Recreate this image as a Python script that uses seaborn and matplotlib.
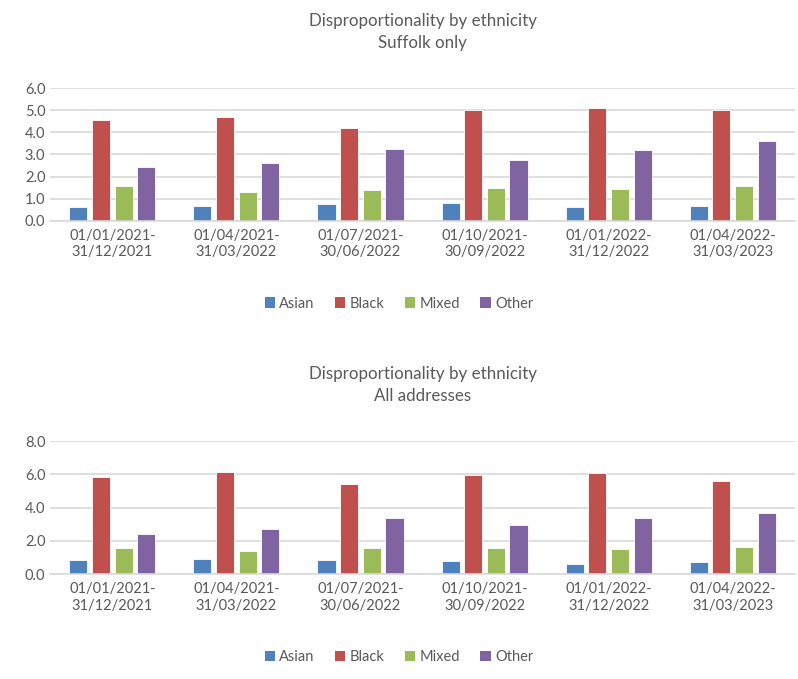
import matplotlib
matplotlib.use('Agg')
import matplotlib.pyplot as plt
import seaborn as sns
import pandas as pd
from matplotlib.patches import Patch
from matplotlib.ticker import FormatStrFormatter, MultipleLocator

# periodos (rotulos do eixo x)
periodos = ['01/01/2021-\n31/12/2021', '01/04/2021-\n31/03/2022', '01/07/2021-\n30/06/2022',
            '01/10/2021-\n30/09/2022', '01/01/2022-\n31/12/2022', '01/04/2022-\n31/03/2023']
etnias = ['Asian', 'Black', 'Mixed', 'Other']
cores = ['#4F81BD', '#C0504D', '#9BBB59', '#8064A2']

# Suffolk only
suffolk_asian = [0.60, 0.66, 0.77, 0.81, 0.62, 0.66]
suffolk_black = [4.58, 4.69, 4.22, 5.02, 5.11, 5.02]
suffolk_mixed = [1.57, 1.28, 1.40, 1.46, 1.43, 1.55]
suffolk_other = [2.41, 2.62, 3.26, 2.73, 3.21, 3.59]

# All addresses
todos_asian = [0.82, 0.88, 0.84, 0.78, 0.58, 0.70]
todos_black = [5.86, 6.14, 5.44, 5.98, 6.06, 5.58]
todos_mixed = [1.54, 1.36, 1.54, 1.54, 1.50, 1.60]
todos_other = [2.40, 2.70, 3.36, 2.96, 3.38, 3.68]


def montar_df(asian, black, mixed, other):
    linhas = []
    for serie, valores in zip(etnias, [asian, black, mixed, other]):
        for p, v in zip(periodos, valores):
            linhas.append({'periodo': p, 'etnia': serie, 'valor': v})
    return pd.DataFrame(linhas)


sns.set_style('white')
plt.rcParams['font.family'] = ['Lato', 'DejaVu Sans']
cinza_texto = '#595959'
cinza_grade = '#D9D9D9'

fig = plt.figure(figsize=(7.98, 6.79), dpi=100)
ax1 = fig.add_axes([0.063, 0.675, 0.933, 0.195])
ax2 = fig.add_axes([0.063, 0.1545, 0.933, 0.196])

configs = [
    (ax1, montar_df(suffolk_asian, suffolk_black, suffolk_mixed, suffolk_other),
     'Disproportionality by ethnicity\nSuffolk only', 6.0, 1.0, 0.553),
    (ax2, montar_df(todos_asian, todos_black, todos_mixed, todos_other),
     'Disproportionality by ethnicity\nAll addresses', 8.0, 2.0, 0.032),
]

for ax, df, titulo, ymax, passo, y_leg in configs:
    sns.barplot(data=df, x='periodo', y='valor', hue='etnia', hue_order=etnias,
                palette=cores, saturation=1, width=0.73, gap=0.2, ax=ax, legend=False,
                edgecolor='white', linewidth=0.6)
    ax.set_ylim(0, ymax)
    ax.set_xlim(-0.5, 5.5)
    ax.yaxis.set_major_locator(MultipleLocator(passo))
    ax.yaxis.set_major_formatter(FormatStrFormatter('%.1f'))
    ax.grid(axis='y', color=cinza_grade, linewidth=1.2)
    ax.set_axisbelow(True)
    for lado in ['top', 'right', 'left']:
        ax.spines[lado].set_visible(False)
    ax.spines['bottom'].set_color(cinza_grade)
    ax.spines['bottom'].set_linewidth(1.2)
    ax.tick_params(axis='both', length=0, colors=cinza_texto, labelsize=10.5)
    ax.tick_params(axis='x', pad=6)
    ax.set_xlabel('')
    ax.set_ylabel('')
    ax.set_title(titulo, color=cinza_texto, fontsize=12.2, pad=29, linespacing=1.45)

    handles = [Patch(facecolor=c, edgecolor='none') for c in cores]
    fig.legend(handles, etnias, loc='center', bbox_to_anchor=(0.5, y_leg), ncol=4,
               frameon=False, handlelength=0.7, handleheight=0.7, handletextpad=0.3,
               columnspacing=1.4, fontsize=10.5, labelcolor=cinza_texto)

fig.savefig('out.png', dpi=100, facecolor='white')
